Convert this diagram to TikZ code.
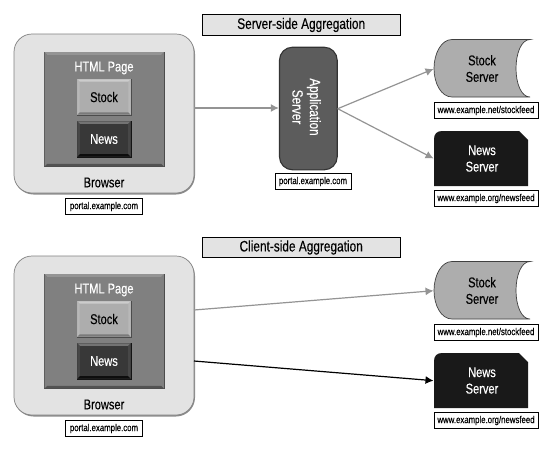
\documentclass[tikz,border=0pt]{standalone}
\usepackage{fontspec}
\setmainfont[FakeStretch=0.78,FakeBold=0.25]{Liberation Sans}
\usetikzlibrary{arrows.meta}
\definecolor{pale}{gray}{0.89}
\definecolor{midg}{gray}{0.50}
\definecolor{lightb}{gray}{0.68}
\definecolor{darkb}{gray}{0.22}
\definecolor{appface}{gray}{0.36}
\definecolor{appedge}{gray}{0.20}
\definecolor{arrowg}{gray}{0.58}
\tikzset{
  urlbox/.style={draw=black,line width=0.7pt,fill=white,inner sep=0pt,minimum height=15.5pt,font=\fontsize{10}{12}\selectfont},
  titlebox/.style={draw=black,line width=0.8pt,fill=pale,inner sep=0pt,minimum width=197.5pt,minimum height=20.5pt,font=\fontsize{15.2}{17}\selectfont},
  lab/.style={inner sep=0pt,font=\fontsize{14.2}{16.5}\selectfont,align=center},
  box/.style={inner sep=0pt,minimum width=#1},
  grayarrow/.style={draw=arrowg,line width=1.2pt,-{Latex[length=8pt,width=8pt]},shorten >=0.5pt},
  blackarrow/.style={draw=black,line width=1.2pt,-{Latex[length=8pt,width=8pt]},shorten >=0.5pt},
  serveredge/.style={line width=0.7pt,draw=black!75},
}
% bevelled rectangle: x1,y1,x2,y2,width,face,top,side,bottom
\newcommand{\bevelrect}[9]{%
  \fill[#6] (#1,#2) rectangle (#3,#4);
  \fill[#7] (#1,#2) -- (#3,#2) -- (#3-#5,#2+#5) -- (#1+#5,#2+#5) -- cycle;
  \fill[#8] (#1,#2) -- (#1+#5,#2+#5) -- (#1+#5,#4-#5) -- (#1,#4) -- cycle;
  \fill[#8] (#3,#2) -- (#3-#5,#2+#5) -- (#3-#5,#4-#5) -- (#3,#4) -- cycle;
  \fill[#9] (#1,#4) -- (#3,#4) -- (#3-#5,#4-#5) -- (#1+#5,#4-#5) -- cycle;
}
\newcommand{\browserset}[1]{%
  \fill[black!45,rounded corners=19pt] (14.5,35) rectangle (195,194.5);
  \draw[fill=pale,draw=black!50,line width=0.7pt,rounded corners=18pt] (14,34) rectangle (194,193);
  \node[box=180pt,minimum height=159pt,anchor=north west] (browser#1) at (14,34) {};
  % page
  \fill[black!70] (44,51.6) rectangle (164.5,167);
  \bevelrect{44.6}{52.2}{163.9}{166.4}{2.6}{midg}{black!42}{black!50}{black!68}
  \node[lab,text=white] (page#1) at (104,68) {HTML Page};
  % stock
  \fill[black!70] (76.5,78.5) rectangle (131.5,115.5);
  \bevelrect{77.3}{79.3}{130.7}{114.7}{2.4}{lightb}{black!20}{black!28}{black!52}
  \node[box=55pt,minimum height=37pt,lab] (stock#1) at (104,97) {Stock};
  % news
  \fill[black!92] (76.5,120.5) rectangle (131.5,157.5);
  \bevelrect{77.3}{121.3}{130.7}{156.7}{2.6}{darkb}{black!55}{black!72}{black!95}
  \node[box=55pt,minimum height=37pt,lab,text=white] (news#1) at (104,139) {News};
  \node[lab] (blabel#1) at (104,182.5) {Browser};
  \node[urlbox,minimum width=77pt] (portal#1) at (104,206.5) {portal.example.com};
}
\newcommand{\serverset}[1]{%
  \draw[serveredge,fill=lightb] (530,39.5) -- (452,39.5)
     .. controls (441,39.5) and (434,54) .. (434,68.5)
     .. controls (434,83) and (441,97) .. (452,97) -- (530,97)
     .. controls (521,97) and (516,83) .. (516,68.5)
     .. controls (516,54) and (521,39.5) .. (530,39.5) -- cycle;
  \node[box=96pt,minimum height=57pt,anchor=north west] (sshape#1) at (434,40) {};
  \node[lab,anchor=center] (stext#1) at (482,68.5) {Stock\\Server};
  \node[urlbox,minimum width=104pt] (surl#1) at (486,110.5) {www.example.net/stockfeed};
  \fill[black!90] (434,186) -- (434,139) .. controls (434,134) and (437,131) .. (442,131)
     -- (519,131) -- (528,140) -- (528,186) -- cycle;
  \node[box=94pt,minimum height=55pt,anchor=north west] (nshape#1) at (434,131) {};
  \node[lab,text=white] (ntext#1) at (482,158.5) {News\\Server};
  \node[urlbox,minimum width=104pt] (nurl#1) at (486,198.5) {www.example.org/newsfeed};
}
\begin{document}
\begin{tikzpicture}[x=1pt,y=-1pt]
\useasboundingbox (0,0) rectangle (554,451);
\fill[white] (0,0) rectangle (554,451);
% ---- top
\node[titlebox] (title1) at (301.2,25) {Server-side Aggregation};
\browserset{A}
\serverset{A}
\draw[fill=appface,draw=appedge,line width=1.1pt,rounded corners=13pt] (279.5,47.2) rectangle (337.2,169.8);
\node[box=58pt,minimum height=123pt,anchor=north west] (app) at (279.3,47) {};
\node[lab,text=white,rotate=-90,font=\fontsize{15}{17.5}\selectfont] (apptext) at (306.5,107) {Application\\Server};
\node[urlbox,minimum width=76pt] (appurl) at (313,181.5) {portal.example.com};
\draw[grayarrow] (browserA.east |- 0,108) -- (app.west |- 0,108);
\draw[grayarrow] (app.east) -- (sshapeA.west);
\draw[grayarrow] (app.east) -- (nshapeA.west);
% ---- bottom
\node[titlebox] (title2) at (301.2,247.5) {Client-side Aggregation};
\begin{scope}[shift={(0,222)}]
\browserset{B}
\serverset{B}
\end{scope}
\coordinate (bs) at (194,310);
\coordinate (bn) at (194,361);
\draw[grayarrow] (bs) -- (sshapeB.west);
\draw[blackarrow] (bn) -- (nshapeB.west);
\end{tikzpicture}
\end{document}
